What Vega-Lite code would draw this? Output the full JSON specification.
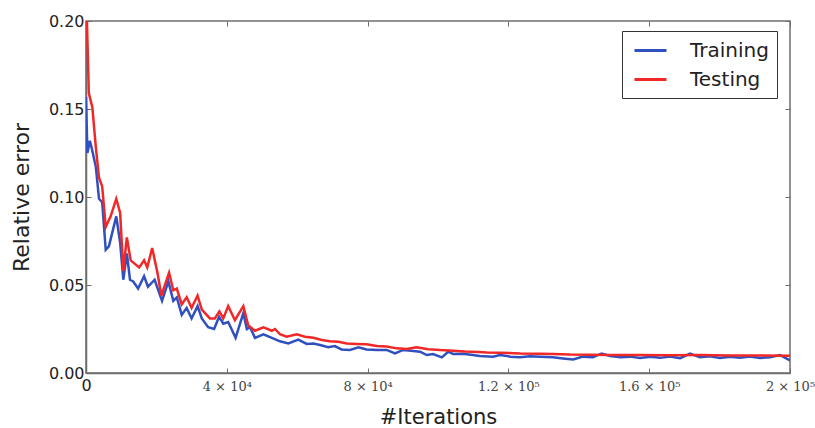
{
  "$schema": "https://vega.github.io/schema/vega-lite/v6.json",
  "width": 704,
  "height": 352,
  "autosize": {"type": "none"},
  "padding": {"left": 86, "top": 21, "right": 25, "bottom": 55},
  "background": "white",
  "config": {
    "view": {"stroke": "#6e6e6e", "strokeWidth": 1.5},
    "axis": {"grid": false, "domainColor": "#6e6e6e", "domainWidth": 1.5, "tickColor": "#6e6e6e", "tickSize": -5, "tickWidth": 1, "labelColor": "#222", "titleColor": "#222", "titleFontWeight": "normal"}
  },
  "datasets": {
    "err": [
      {"it":0,"s":"Training","e":0.157},{"it":400,"s":"Training","e":0.125},{"it":1100,"s":"Training","e":0.132},{"it":1600,"s":"Training","e":0.128},{"it":2800,"s":"Training","e":0.117},{"it":3700,"s":"Training","e":0.099},{"it":4600,"s":"Training","e":0.097},{"it":5600,"s":"Training","e":0.070},{"it":6500,"s":"Training","e":0.072},{"it":8600,"s":"Training","e":0.089},{"it":9700,"s":"Training","e":0.074},{"it":10600,"s":"Training","e":0.053},{"it":11600,"s":"Training","e":0.068},{"it":12500,"s":"Training","e":0.053},{"it":13400,"s":"Training","e":0.052},{"it":14800,"s":"Training","e":0.048},{"it":16500,"s":"Training","e":0.055},{"it":17600,"s":"Training","e":0.049},{"it":19500,"s":"Training","e":0.053},{"it":21600,"s":"Training","e":0.041},{"it":23400,"s":"Training","e":0.052},{"it":24800,"s":"Training","e":0.041},{"it":25800,"s":"Training","e":0.043},{"it":27200,"s":"Training","e":0.033},{"it":28600,"s":"Training","e":0.037},{"it":30000,"s":"Training","e":0.031},{"it":31700,"s":"Training","e":0.038},{"it":32900,"s":"Training","e":0.031},{"it":34700,"s":"Training","e":0.026},{"it":36400,"s":"Training","e":0.025},{"it":37800,"s":"Training","e":0.032},{"it":39000,"s":"Training","e":0.028},{"it":40400,"s":"Training","e":0.029},{"it":42500,"s":"Training","e":0.020},{"it":44700,"s":"Training","e":0.034},{"it":45700,"s":"Training","e":0.025},{"it":46600,"s":"Training","e":0.026},{"it":48000,"s":"Training","e":0.020},{"it":50400,"s":"Training","e":0.022},{"it":52800,"s":"Training","e":0.020},{"it":55100,"s":"Training","e":0.018},{"it":57500,"s":"Training","e":0.0168},{"it":60300,"s":"Training","e":0.019},{"it":62700,"s":"Training","e":0.0165},{"it":64600,"s":"Training","e":0.0168},{"it":66500,"s":"Training","e":0.0159},{"it":68800,"s":"Training","e":0.0146},{"it":70700,"s":"Training","e":0.0153},{"it":72600,"s":"Training","e":0.0134},{"it":75000,"s":"Training","e":0.0131},{"it":77400,"s":"Training","e":0.0146},{"it":79700,"s":"Training","e":0.0134},{"it":82600,"s":"Training","e":0.0131},{"it":85400,"s":"Training","e":0.0131},{"it":87800,"s":"Training","e":0.0111},{"it":90100,"s":"Training","e":0.0131},{"it":93000,"s":"Training","e":0.0125},{"it":94900,"s":"Training","e":0.0121},{"it":96800,"s":"Training","e":0.0102},{"it":98600,"s":"Training","e":0.0108},{"it":101100,"s":"Training","e":0.0089},{"it":102900,"s":"Training","e":0.0121},{"it":104300,"s":"Training","e":0.0108},{"it":107100,"s":"Training","e":0.0110},{"it":109900,"s":"Training","e":0.0102},{"it":111900,"s":"Training","e":0.0097},{"it":115600,"s":"Training","e":0.0093},{"it":117600,"s":"Training","e":0.0102},{"it":120500,"s":"Training","e":0.0093},{"it":123300,"s":"Training","e":0.0089},{"it":126100,"s":"Training","e":0.0095},{"it":129000,"s":"Training","e":0.0093},{"it":132700,"s":"Training","e":0.0089},{"it":135500,"s":"Training","e":0.0083},{"it":138400,"s":"Training","e":0.0077},{"it":141200,"s":"Training","e":0.0093},{"it":144000,"s":"Training","e":0.0089},{"it":146500,"s":"Training","e":0.0111},{"it":148900,"s":"Training","e":0.0097},{"it":151800,"s":"Training","e":0.0090},{"it":154600,"s":"Training","e":0.0093},{"it":157400,"s":"Training","e":0.0085},{"it":160300,"s":"Training","e":0.0092},{"it":163100,"s":"Training","e":0.0086},{"it":165900,"s":"Training","e":0.0094},{"it":168800,"s":"Training","e":0.0084},{"it":171600,"s":"Training","e":0.0110},{"it":174400,"s":"Training","e":0.0090},{"it":177300,"s":"Training","e":0.0095},{"it":180100,"s":"Training","e":0.0085},{"it":183000,"s":"Training","e":0.0092},{"it":185800,"s":"Training","e":0.0086},{"it":188600,"s":"Training","e":0.0093},{"it":191500,"s":"Training","e":0.0085},{"it":194300,"s":"Training","e":0.0090},{"it":197200,"s":"Training","e":0.0102},{"it":200000,"s":"Training","e":0.0072},
      {"it":0,"s":"Testing","e":0.22},{"it":800,"s":"Testing","e":0.159},{"it":1800,"s":"Testing","e":0.151},{"it":2800,"s":"Testing","e":0.128},{"it":3700,"s":"Testing","e":0.111},{"it":4600,"s":"Testing","e":0.106},{"it":5600,"s":"Testing","e":0.083},{"it":7000,"s":"Testing","e":0.089},{"it":8600,"s":"Testing","e":0.099},{"it":9700,"s":"Testing","e":0.091},{"it":10600,"s":"Testing","e":0.058},{"it":11600,"s":"Testing","e":0.077},{"it":12700,"s":"Testing","e":0.064},{"it":15100,"s":"Testing","e":0.060},{"it":16500,"s":"Testing","e":0.064},{"it":17400,"s":"Testing","e":0.060},{"it":18800,"s":"Testing","e":0.071},{"it":20300,"s":"Testing","e":0.057},{"it":21400,"s":"Testing","e":0.044},{"it":23600,"s":"Testing","e":0.057},{"it":24800,"s":"Testing","e":0.047},{"it":25800,"s":"Testing","e":0.048},{"it":27200,"s":"Testing","e":0.039},{"it":28600,"s":"Testing","e":0.043},{"it":30000,"s":"Testing","e":0.037},{"it":31700,"s":"Testing","e":0.044},{"it":32900,"s":"Testing","e":0.036},{"it":35200,"s":"Testing","e":0.031},{"it":36600,"s":"Testing","e":0.031},{"it":37900,"s":"Testing","e":0.035},{"it":39000,"s":"Testing","e":0.031},{"it":40400,"s":"Testing","e":0.038},{"it":42300,"s":"Testing","e":0.030},{"it":44700,"s":"Testing","e":0.038},{"it":46100,"s":"Testing","e":0.027},{"it":48000,"s":"Testing","e":0.024},{"it":50400,"s":"Testing","e":0.026},{"it":52800,"s":"Testing","e":0.024},{"it":53700,"s":"Testing","e":0.025},{"it":55100,"s":"Testing","e":0.022},{"it":57000,"s":"Testing","e":0.0206},{"it":59900,"s":"Testing","e":0.022},{"it":62200,"s":"Testing","e":0.0206},{"it":64600,"s":"Testing","e":0.020},{"it":67000,"s":"Testing","e":0.0188},{"it":69300,"s":"Testing","e":0.018},{"it":71700,"s":"Testing","e":0.0178},{"it":74100,"s":"Testing","e":0.0168},{"it":76900,"s":"Testing","e":0.0165},{"it":79700,"s":"Testing","e":0.0163},{"it":82600,"s":"Testing","e":0.0153},{"it":85400,"s":"Testing","e":0.015},{"it":88300,"s":"Testing","e":0.014},{"it":91100,"s":"Testing","e":0.0136},{"it":93900,"s":"Testing","e":0.0146},{"it":97200,"s":"Testing","e":0.0135},{"it":100600,"s":"Testing","e":0.013},{"it":104300,"s":"Testing","e":0.0127},{"it":107700,"s":"Testing","e":0.0122},{"it":111400,"s":"Testing","e":0.012},{"it":113900,"s":"Testing","e":0.0116},{"it":117600,"s":"Testing","e":0.0115},{"it":123300,"s":"Testing","e":0.0111},{"it":129000,"s":"Testing","e":0.011},{"it":132700,"s":"Testing","e":0.0108},{"it":137500,"s":"Testing","e":0.0105},{"it":143200,"s":"Testing","e":0.0104},{"it":148900,"s":"Testing","e":0.0102},{"it":157400,"s":"Testing","e":0.0102},{"it":165900,"s":"Testing","e":0.0101},{"it":174400,"s":"Testing","e":0.0102},{"it":183000,"s":"Testing","e":0.0100},{"it":191500,"s":"Testing","e":0.0100},{"it":200000,"s":"Testing","e":0.0098}
    ]
  },
  "data": {"name": "err"},
  "layer": [
    {
      "mark": {"type": "line", "strokeWidth": 2.5, "clip": true},
      "encoding": {
        "x": {
          "field": "it", "type": "quantitative",
          "scale": {"domain": [0, 200000], "nice": false, "zero": false},
          "axis": {
            "orient": "bottom",
            "values": [0, 40000, 80000, 120000, 160000, 200000],
            "labelExpr": "datum.value == 0 ? '0' : datum.value == 40000 ? '4 × 10⁴' : datum.value == 80000 ? '8 × 10⁴' : datum.value == 120000 ? '1.2 × 10⁵' : datum.value == 160000 ? '1.6 × 10⁵' : '2 × 10⁵'",
            "labelFont": {"condition": {"test": "datum.value == 0", "value": "DejaVu Sans"}, "value": "DejaVu Serif"},
            "labelFontSize": {"condition": {"test": "datum.value == 0", "value": 16}, "value": 13},
            "labelColor": {"condition": {"test": "datum.value == 0", "value": "#222"}, "value": "#444"},
            "labelBaseline": "alphabetic",
            "labelPadding": 22,
            "labelFlush": false,
            "labelOverlap": false,
            "title": "#Iterations",
            "titleFont": "DejaVu Sans",
            "titleFontSize": 21,
            "titleBaseline": "alphabetic",
            "titleY": 50
          }
        },
        "y": {
          "field": "e", "type": "quantitative",
          "scale": {"domain": [0, 0.2], "nice": false},
          "axis": {
            "orient": "left",
            "values": [0, 0.05, 0.1, 0.15, 0.2],
            "format": ".2f",
            "labelFont": "DejaVu Sans",
            "labelFontSize": 16,
            "labelPadding": 7,
            "title": "Relative error",
            "titleFont": "DejaVu Sans",
            "titleFontSize": 22,
            "titleBaseline": "alphabetic",
            "titleAngle": -90,
            "titleX": -58,
            "titleY": 176
          }
        },
        "color": {
          "field": "s", "type": "nominal",
          "scale": {"domain": ["Training", "Testing"], "range": ["#3050c0", "#f02828"]},
          "legend": {
            "title": null,
            "orient": "none",
            "legendX": 536,
            "legendY": 10,
            "padding": 8,
            "strokeColor": "#333",
            "fillColor": "white",
            "cornerRadius": 0,
            "labelFont": "DejaVu Sans",
            "labelFontSize": 20,
            "labelColor": "#222",
            "labelOffset": 37,
            "rowPadding": 7,
            "symbolType": "M-0.7,0H2.5",
            "symbolSize": 400,
            "symbolStrokeWidth": 3
          }
        }
      }
    },
    {
      "mark": {"type": "line", "opacity": 0},
      "encoding": {
        "x": {
          "field": "it", "type": "quantitative",
          "axis": {"orient": "top", "values": [0, 40000, 80000, 120000, 160000, 200000], "labels": false, "title": null, "domain": false}
        },
        "y": {
          "field": "e", "type": "quantitative",
          "axis": {"orient": "right", "values": [0, 0.05, 0.1, 0.15, 0.2], "labels": false, "title": null, "domain": false}
        }
      }
    }
  ],
  "resolve": {"axis": {"x": "independent", "y": "independent"}}
}
